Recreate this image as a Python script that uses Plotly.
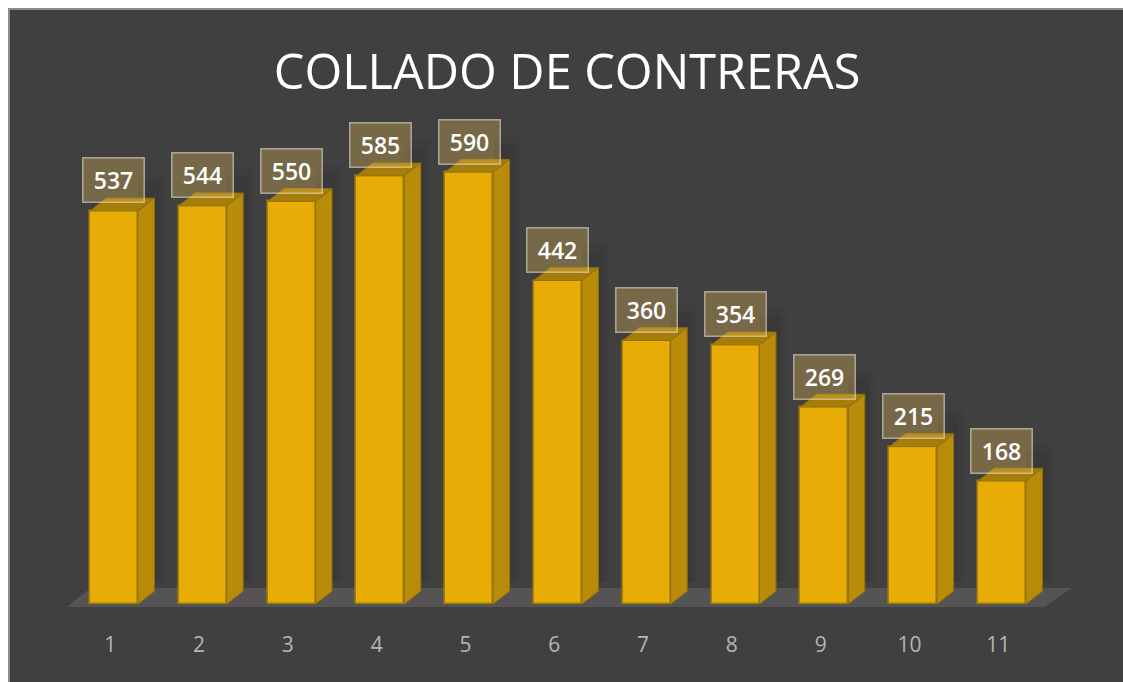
import plotly.graph_objects as go

categories = list(range(1, 12))
values = [537, 544, 550, 585, 590, 442, 360, 354, 269, 215, 168]
title_text = "COLLADO DE CONTRERAS"

BAR_W = 0.54
BAR_SHIFT = 0.042
DX = 0.185
DY = 17.5

xs_left = [c + BAR_SHIFT - BAR_W / 2 for c in categories]
xs_right = [c + BAR_SHIFT + BAR_W / 2 for c in categories]

side_x, side_y, top_x, top_y = [], [], [], []
for l, r, v in zip(xs_left, xs_right, values):
    side_x += [r, r + DX, r + DX, r, r, None]
    side_y += [0, DY, v + DY, v, 0, None]
    top_x += [l, l + DX, r + DX, r, l, None]
    top_y += [v, v + DY, v + DY, v, v, None]

fig = go.Figure()
fig.add_trace(go.Bar(
    x=categories, y=values, width=BAR_W, offset=BAR_SHIFT - BAR_W / 2,
    marker=dict(color="#E8AC06", line=dict(color="#A17C0C", width=1.6)),
    hoverinfo="x+y", showlegend=False,
))
fig.add_trace(go.Scatter(
    x=side_x, y=side_y, mode="lines", fill="toself", fillcolor="#B88B08",
    line=dict(color="#94720C", width=1), hoverinfo="skip", showlegend=False,
))
fig.add_trace(go.Scatter(
    x=top_x, y=top_y, mode="lines", fill="toself", fillcolor="#A67D08",
    line=dict(color="#94720C", width=1), hoverinfo="skip", showlegend=False,
))

floor = "M 0.51,-4 L 0.78,22 L 11.83,22 L 11.52,-4 Z"
shapes = [
    dict(type="path", path=floor, xref="x", yref="y", layer="below",
         fillcolor="#555353", line=dict(width=0)),
    dict(type="rect", xref="paper", yref="paper", x0=0, y0=-0.02, x1=1.02, y1=1,
         line=dict(color="#8C8C8C", width=2), fillcolor="rgba(0,0,0,0)", layer="above"),
]
# soft shadow behind the bars, fading in two steps
for r, v in zip(xs_right, values):
    for grow, alpha in ((0.30, 0.035), (0.24, 0.05)):
        shapes.append(dict(type="rect", xref="x", yref="y", layer="below",
                           x0=r, x1=r + grow, y0=30, y1=v + 50 * grow / 0.3,
                           fillcolor=f"rgba(0,0,0,{alpha})", line=dict(width=0)))

annotations = [
    dict(x=c + BAR_SHIFT, y=v, xref="x", yref="y", text=str(v), showarrow=False,
         xanchor="center", yanchor="bottom", yshift=7.5, width=56, height=39,
         bgcolor="rgba(235,190,90,0.32)", bordercolor="rgba(225,220,200,0.62)",
         borderwidth=1.5, borderpad=2, valign="middle", align="center",
         font=dict(family="Open Sans", size=23, color="#FFFFFF", weight=600))
    for c, v in zip(categories, values)
]

fig.update_layout(
    width=1123, height=682, autosize=False, bargap=0,
    margin=dict(l=9, r=0, t=9, b=0),
    paper_bgcolor="#FFFFFF", plot_bgcolor="#404040",
    title=dict(text=title_text, x=0.505, xanchor="center", y=0.895, yanchor="middle",
               font=dict(family="Open Sans", size=48.6, color="#FFFFFF")),
    shapes=shapes, annotations=annotations, showlegend=False,
    xaxis=dict(range=[-0.14, 12.405], tickmode="array", tickvals=categories,
               ticktext=[str(c) for c in categories], showgrid=False, zeroline=False,
               showline=False, ticks="", anchor="free", position=0.078,
               tickfont=dict(family="Open Sans", size=21, color="#B5B5B5")),
    yaxis=dict(range=[-106.6, 813], visible=False, showgrid=False, zeroline=False),
)
fig.write_html("out.html", config={"displayModeBar": False},
               post_script="document.body.style.margin='0';")
